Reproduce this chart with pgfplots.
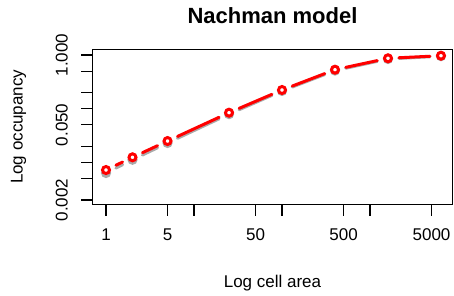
\documentclass[border=0pt]{standalone}
\usepackage{fontspec}
\setmainfont{Liberation Sans}
\usepackage{pgfplots}
\pgfplotsset{compat=1.18}
\definecolor{shadowgrey}{RGB}{170,170,170}
\begin{document}
\begin{tikzpicture}[x=1pt,y=1pt]
\useasboundingbox (0,0) rectangle (454,295);
\begin{axis}[
  at={(92.7pt,90.7pt)}, anchor=south west, scale only axis,
  width=359.6pt, height=155pt,
  xmode=log, ymode=log,
  xmin=0.706, xmax=8610, ymin=0.00166, ymax=1.277,
  clip=false,
  axis line style={line width=1.1pt},
  tick style={line width=1.1pt, black},
  major tick length=11.5pt, tick align=outside,
  xtick pos=bottom, ytick pos=left,
  minor xtick={}, minor ytick={},
  xtick={1,5,10,50,100,500,1000,5000},
  xticklabels={1,5,,50,,500,,5000},
  ytick={0.002,0.005,0.01,0.02,0.05,0.1,0.2,0.5,1},
  yticklabels={0.002,,,,0.050,,,,1.000},
  xticklabel shift=9pt,
  yticklabel shift=10pt,
  xticklabel style={font=\fontsize{17}{20}\selectfont},
  yticklabel style={font=\fontsize{17}{20}\selectfont, rotate=90, anchor=south},
  xlabel={Log cell area},
  ylabel={Log occupancy},
  title={Nachman model},
  xlabel style={font=\fontsize{17}{20}\selectfont, at={([yshift=-83pt]axis description cs:0.5,0)}, anchor=base},
  ylabel style={font=\fontsize{17}{20}\selectfont, at={([xshift=-70pt]axis description cs:0,0.5)}, anchor=base},
  title style={font=\bfseries\fontsize{22}{26}\selectfont, at={([yshift=19.5pt]axis description cs:0.5,1)}, anchor=base},
]
% grey series (segments with gaps, type "b")
\addplot[shadowgrey, line width=3pt, line cap=round, shorten <=11pt, shorten >=11pt] coordinates {(1,0.00635) (2,0.0112)};
\addplot[shadowgrey, line width=3pt, line cap=round, shorten <=11pt, shorten >=11pt] coordinates {(2,0.0112) (5,0.0230)};
\addplot[shadowgrey, line width=3pt, line cap=round, shorten <=11pt, shorten >=11pt] coordinates {(5,0.0230) (25,0.0792)};
\addplot[shadowgrey, line width=3pt, line cap=round, shorten <=11pt, shorten >=11pt] coordinates {(25,0.0792) (100,0.214)};
\addplot[shadowgrey, line width=3pt, line cap=round, shorten <=11pt, shorten >=11pt] coordinates {(100,0.214) (400,0.512)};
\addplot[shadowgrey, line width=3pt, line cap=round, shorten <=11pt, shorten >=11pt] coordinates {(400,0.512) (1600,0.842)};
\addplot[shadowgrey, line width=3pt, line cap=round, shorten <=11pt, shorten >=11pt] coordinates {(1600,0.842) (6400,0.951)};
\addplot[only marks, mark=*, mark size=3.5pt, mark options={line width=3pt, draw=shadowgrey, fill=white}] coordinates {
(1,0.00635) (2,0.0112) (5,0.0230) (25,0.0792) (100,0.214) (400,0.512) (1600,0.842) (6400,0.951)};
% red series
\addplot[red, line width=3pt, line cap=round, shorten <=11pt, shorten >=11pt] coordinates {(1,0.00722) (2,0.01245)};
\addplot[red, line width=3pt, line cap=round, shorten <=11pt, shorten >=11pt] coordinates {(2,0.01245) (5,0.0250)};
\addplot[red, line width=3pt, line cap=round, shorten <=11pt, shorten >=11pt] coordinates {(5,0.0250) (25,0.0843)};
\addplot[red, line width=3pt, line cap=round, shorten <=11pt, shorten >=11pt] coordinates {(25,0.0843) (100,0.223)};
\addplot[red, line width=3pt, line cap=round, shorten <=11pt, shorten >=11pt] coordinates {(100,0.223) (400,0.533)};
\addplot[red, line width=3pt, line cap=round, shorten <=11pt, shorten >=11pt] coordinates {(400,0.533) (1600,0.868)};
\addplot[red, line width=3pt, line cap=round, shorten <=11pt, shorten >=11pt] coordinates {(1600,0.868) (6400,0.97)};
\addplot[only marks, mark=*, mark size=3.5pt, mark options={line width=3pt, draw=red, fill=white}] coordinates {
(1,0.00722) (2,0.01245) (5,0.0250) (25,0.0843) (100,0.223) (400,0.533) (1600,0.868) (6400,0.97)};
\end{axis}
\end{tikzpicture}
\end{document}
